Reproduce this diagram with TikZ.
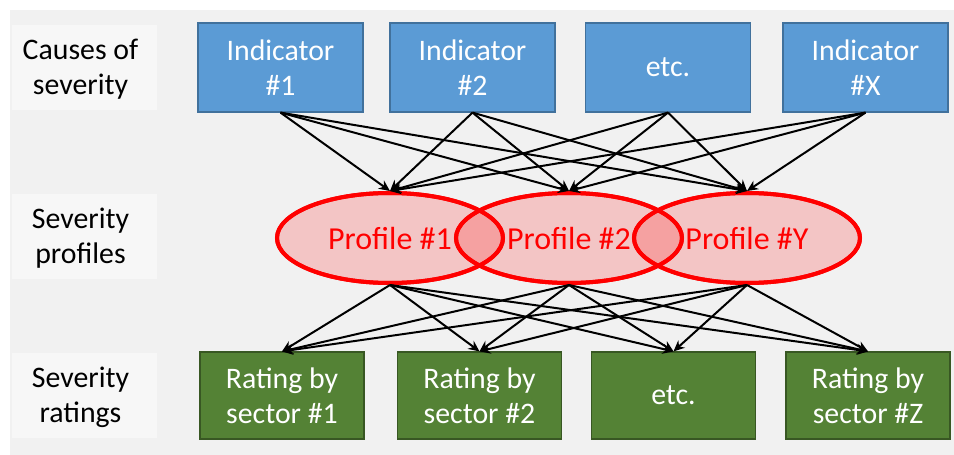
\documentclass[tikz,border=0pt]{standalone}
\usepackage{fontspec}
\setmainfont{Carlito}
\usetikzlibrary{arrows.meta,shapes.geometric}
\definecolor{bgray}{RGB}{241,241,241}
\definecolor{lgray}{RGB}{247,247,247}
\definecolor{iblue}{RGB}{91,155,213}
\definecolor{iblueb}{RGB}{65,113,156}
\definecolor{rgreen}{RGB}{84,130,53}
\definecolor{rgreenb}{RGB}{56,87,35}
\tikzset{
  lbl/.style={fill=lgray,draw=none,minimum width=72.5pt,minimum height=42.5pt,align=center,inner sep=0pt,
    font=\fontsize{14.9pt}{17.5pt}\selectfont,text=black},
  ind/.style={fill=iblue,draw=iblueb,line width=0.6pt,minimum width=82.5pt,minimum height=44.5pt,align=center,inner sep=0pt,
    font=\fontsize{14.9pt}{17.5pt}\selectfont,text=white},
  rat/.style={fill=rgreen,draw=rgreenb,line width=0.6pt,minimum width=82pt,minimum height=43.5pt,align=center,inner sep=0pt,
    font=\fontsize{14.9pt}{17.5pt}\selectfont,text=white},
  prof/.style={ellipse,draw=red,line width=2pt,fill=red,fill opacity=0.18,text opacity=1,text=red,
    minimum width=113pt,minimum height=45pt,inner sep=0pt,font=\fontsize{16pt}{19pt}\selectfont},
  proftext/.style={text=red,font=\fontsize{16pt}{19pt}\selectfont},
  arr/.style={-{Stealth[length=5.5pt,width=5pt]},line width=1pt,black},
}
\begin{document}
\begin{tikzpicture}[x=0.5pt,y=-0.5pt]
\useasboundingbox (0,0) rectangle (954,455);
\fill[white] (0,0) rectangle (954,455);
\fill[bgray] (10,10) rectangle (954,455);
% left labels
\node[lbl] (l1) at (84.5,67.5) {};
\node[lbl] (l2) at (84.5,236.5) {};
\node[lbl] (l3) at (84.5,395.5) {};
\node[lbl,fill=none] (tl1) at (80.5,69) {Causes of\\severity};
\node[lbl,fill=none] (tl2) at (80.5,238) {Severity\\profiles};
\node[lbl,fill=none] (tl3) at (80.5,397) {Severity\\ratings};
% indicators
\node[ind] (i1) at (280.5,67.5) {Indicator\\\#1};
\node[ind] (i2) at (472.5,67.5) {Indicator\\\#2};
\node[ind] (i3) at (668,67.5) {etc.};
\node[ind] (i4) at (865.5,67.5) {Indicator\\\#X};
% ratings
\node[rat] (r1) at (282,395.5) {Rating by\\sector \#1};
\node[rat] (r2) at (479.5,395.5) {Rating by\\sector \#2};
\node[rat] (r3) at (673.5,395.5) {etc.};
\node[rat] (r4) at (868,395.5) {Rating by\\sector \#Z};
% profiles
\node[prof] (p1) at (390,238) {};
\node[prof] (p2) at (569,238) {};
\node[prof] (p3) at (747,238) {};
% redraw outlines on top so overlaps show both borders
\draw[red,line width=2pt] (p1.center) ellipse [x radius=113,y radius=45];
\draw[red,line width=2pt] (p2.center) ellipse [x radius=113,y radius=45];
\draw[red,line width=2pt] (p3.center) ellipse [x radius=113,y radius=45];
\node[proftext] (t1) at (p1.center) {Profile \#1};
\node[proftext] (t2) at (p2.center) {Profile \#2};
\node[proftext] (t3) at (p3.center) {Profile \#Y};
% arrows
\foreach \i in {i1,i2,i3,i4}{
  \foreach \p in {p1,p2,p3}{
    \draw[arr] (\i.south) -- (\p.north);
  }
}
\foreach \p in {p1,p2,p3}{
  \foreach \r in {r1,r2,r3,r4}{
    \draw[arr] (\p.south) -- (\r.north);
  }
}
\end{tikzpicture}
\end{document}
